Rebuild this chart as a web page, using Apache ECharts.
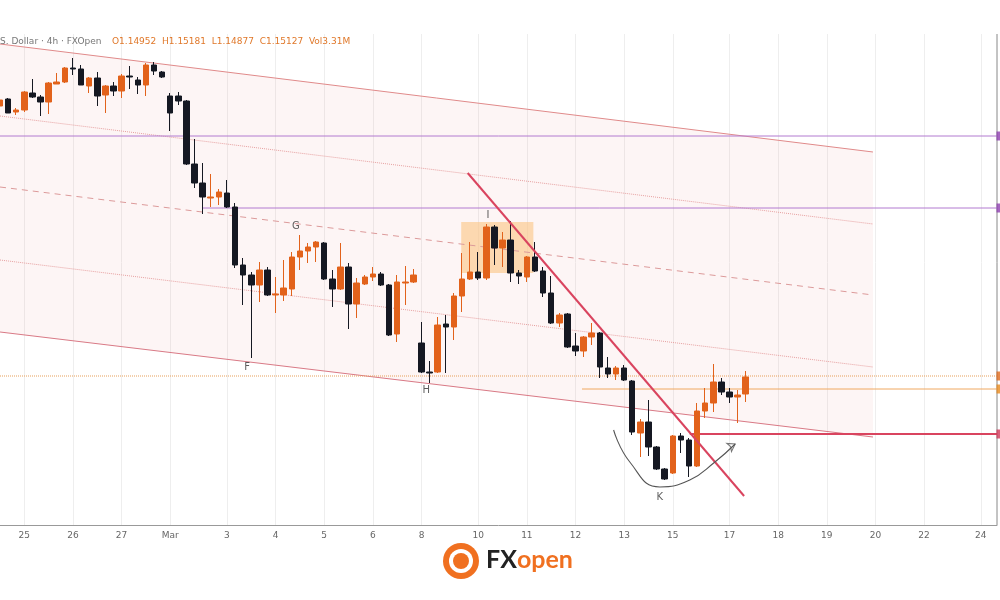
<!DOCTYPE html>
<html>
<head>
<meta charset="utf-8">
<script src="https://cdn.jsdelivr.net/npm/echarts@6/dist/echarts.min.js"></script>
<style>
  html, body { margin: 0; padding: 0; background: #fff; }
  #chart { width: 1000px; height: 600px; }
</style>
</head>
<body>
<div id="chart"></div>
<script>
// 4h candles, [open, close, low, high]
const candles = [
  [1.1784,1.1790,1.1783,1.1791],[1.1791,1.1777,1.1777,1.1792],[1.1778,1.1780,1.1775,1.1782],[1.1780,1.1798,1.1778,1.1799],
  [1.1797,1.1793,1.1792,1.1811],[1.1793,1.1788,1.1774,1.1795],[1.1788,1.1807,1.1776,1.1808],[1.1806,1.1808,1.1806,1.1817],
  [1.1808,1.1822,1.1807,1.1823],[1.1822,1.1821,1.1815,1.1832],[1.1821,1.1805,1.1805,1.1825],[1.1804,1.1812,1.1797,1.1813],
  [1.1812,1.1794,1.1784,1.1818],[1.1795,1.1804,1.1777,1.1805],[1.1804,1.1799,1.1794,1.1808],[1.1799,1.1814,1.1792,1.1816],
  [1.1814,1.1813,1.1801,1.1824],[1.1810,1.1805,1.1796,1.1813],[1.1805,1.1825,1.1794,1.1827],[1.1825,1.1819,1.1815,1.1828],
  [1.1818,1.1813,1.1812,1.1819],[1.1794,1.1777,1.1759,1.1797],[1.1794,1.1789,1.1785,1.1798],[1.1789,1.1726,1.1725,1.1790],
  [1.1726,1.1707,1.1702,1.1751],[1.1707,1.1693,1.1676,1.1727],[1.1692,1.1693,1.1683,1.1716],[1.1693,1.1698,1.1685,1.1701],
  [1.1697,1.1683,1.1682,1.1710],[1.1683,1.1625,1.1622,1.1687],[1.1625,1.1615,1.1585,1.1632],[1.1615,1.1605,1.1532,1.1618],
  [1.1605,1.1620,1.1588,1.1628],[1.1620,1.1595,1.1594,1.1623],[1.1595,1.1596,1.1577,1.1613],[1.1595,1.1602,1.1589,1.1630],
  [1.1601,1.1633,1.1594,1.1638],[1.1633,1.1639,1.1620,1.1655],[1.1639,1.1643,1.1627,1.1647],[1.1643,1.1648,1.1628,1.1649],
  [1.1647,1.1611,1.1610,1.1648],[1.1611,1.1601,1.1583,1.1620],[1.1601,1.1623,1.1600,1.1647],[1.1623,1.1586,1.1561,1.1627],
  [1.1586,1.1607,1.1572,1.1612],[1.1606,1.1613,1.1605,1.1615],[1.1613,1.1616,1.1609,1.1623],[1.1616,1.1605,1.1604,1.1618],
  [1.1605,1.1555,1.1554,1.1606],[1.1556,1.1608,1.1548,1.1615],[1.1607,1.1608,1.1585,1.1624],[1.1608,1.1615,1.1607,1.1621],
  [1.1547,1.1518,1.1517,1.1568],[1.1518,1.1517,1.1507,1.1529],[1.1518,1.1565,1.1517,1.1573],[1.1566,1.1563,1.1517,1.1575],
  [1.1563,1.1594,1.1550,1.1597],[1.1594,1.1611,1.1578,1.1637],[1.1611,1.1618,1.1610,1.1648],[1.1618,1.1612,1.1610,1.1638],
  [1.1612,1.1663,1.1610,1.1666],[1.1663,1.1642,1.1625,1.1665],[1.1642,1.1650,1.1623,1.1658],[1.1650,1.1617,1.1608,1.1669],
  [1.1617,1.1614,1.1606,1.1620],[1.1613,1.1633,1.1608,1.1634],[1.1633,1.1619,1.1618,1.1648],[1.1619,1.1597,1.1593,1.1623],
  [1.1597,1.1567,1.1566,1.1614],[1.1567,1.1575,1.1563,1.1577],[1.1576,1.1543,1.1542,1.1577],[1.1544,1.1539,1.1534,1.1557],
  [1.1539,1.1553,1.1533,1.1554],[1.1553,1.1557,1.1545,1.1567],[1.1557,1.1523,1.1512,1.1558],[1.1522,1.1516,1.1512,1.1533],
  [1.1516,1.1522,1.1510,1.1524],[1.1522,1.1510,1.1509,1.1525],[1.1509,1.1458,1.1455,1.1510],[1.1457,1.1468,1.1433,1.1471],
  [1.1468,1.1443,1.1434,1.1490],[1.1443,1.1421,1.1420,1.1444],[1.1421,1.1411,1.1410,1.1422],[1.1417,1.1454,1.1416,1.1455],
  [1.1454,1.1450,1.1437,1.1457],[1.1450,1.1424,1.1413,1.1452],[1.1424,1.1479,1.1423,1.1487],[1.1479,1.1487,1.1472,1.1502],
  [1.1487,1.1508,1.1478,1.1526],[1.1508,1.1498,1.1495,1.1512],[1.1498,1.1493,1.1487,1.1502],[1.1493,1.1495,1.1467,1.1500],
  [1.1496,1.1513,1.1488,1.1519]
];
const slotCount = 124;
const dayLabels = ['25','26','27','Mar','3','4','5','6','8','10','11','12','13','15','17','18','19','20','22','24'];
const daySlots = [2.5,8.9,14.8,20.7,28.1,34,39.9,45.9,51.9,58.9,64.9,70.7,76.9,83,89.9,95.8,102,107.9,114,120.7];

// channel lines [slot, price] start/end
const chUpper = [[0,1.1846],[107.7,1.1738]];
const chQ1 = [[0,1.1774],[107.7,1.1666]];
const chMid = [[0,1.1703],[107.7,1.1595]];
const chQ3 = [[0,1.1630],[107.7,1.1523]];
const chLower = [[0,1.1558],[107.7,1.1453]];
const trendLine = [[57.7,1.1717],[91.8,1.1394]];
const zoneBox = [56.9,65.8,1.1668,1.1617];
const arcPts = [[75.7,1.1460],[77.7,1.1428],[81.4,1.1403],[85.1,1.1410],[88.2,1.1428],[90.7,1.1446]];
// horizontal levels: price, start slot, colour, type, width
const levels = [
  [1.1754, 0, '#b27ad0', 'solid', 1],
  [1.1682, 25, '#b27ad0', 'solid', 1],
  [1.1514, 0, '#e8a05a', 'dotted', 1],
  [1.1501, 71.8, '#f0a860', 'solid', 1],
  [1.1456, 85.1, '#d9445f', 'solid', 1.8]
];
const markerColors = ['#8e3fb0','#8e3fb0','#e06a1c','#e88a1c','#d03a5a'];
const pointLabels = [['F',30.5,1.1523],['G',36.5,1.1664],['H',52.6,1.1500],['I',60.2,1.1675],['K',81.4,1.1393]];

const chart = echarts.init(document.getElementById('chart'));
const upColor = '#e2621b', downColor = '#151822';

const categories = [];
for (let i = 0; i < slotCount; i++) categories.push(String(i));
const labelAt = {};
daySlots.forEach((s, i) => { labelAt[Math.round(s)] = dayLabels[i]; });

const line = (pts, color, type, width, z) => ({
  type: 'line', xAxisIndex: 1, data: pts, symbol: 'none', silent: true, z: z || 3,
  lineStyle: { color: color, type: type, width: width }
});

const series = [
  {
    type: 'custom', xAxisIndex: 1, silent: true, z: 1, data: [0],
    renderItem: (params, api) => {
      const pts = [chUpper[0], chUpper[1], chLower[1], chLower[0]].map(p => api.coord(p));
      return { type: 'polygon', shape: { points: pts }, style: { fill: 'rgba(238,140,140,0.09)' } };
    }
  },
  {
    type: 'custom', xAxisIndex: 1, silent: true, z: 1, data: [0],
    renderItem: (params, api) => {
      const a = api.coord([zoneBox[0], zoneBox[2]]), b = api.coord([zoneBox[1], zoneBox[3]]);
      return { type: 'rect', shape: { x: a[0], y: a[1], width: b[0] - a[0], height: b[1] - a[1] },
        style: { fill: 'rgba(252,196,130,0.6)' } };
    }
  },
  line(chUpper, '#e08a8a', 'solid', 1),
  line(chQ1, '#e6a0a0', 'dotted', 1),
  line(chMid, '#dc9a9a', [6, 5], 1),
  line(chQ3, '#e6a0a0', 'dotted', 1),
  line(chLower, '#d97a86', 'solid', 1.2),
  ...levels.map(l => line([[l[1], l[0]], [123, l[0]]], l[2], l[3], l[4])),
  {
    type: 'candlestick', xAxisIndex: 0, data: candles, barWidth: 6, z: 5,
    itemStyle: { color: upColor, color0: downColor, borderColor: upColor, borderColor0: downColor, borderWidth: 1 }
  },
  line(trendLine, '#d9445f', 'solid', 2, 6),
  Object.assign(line(arcPts, '#555', 'solid', 1.1, 6), { smooth: true }),
  {
    type: 'scatter', xAxisIndex: 1, z: 6, silent: true, symbol: 'arrow', symbolSize: [7, 7], symbolRotate: -60,
    data: [arcPts[arcPts.length - 1]], itemStyle: { color: 'none', borderColor: '#555', borderWidth: 1 }
  },
  {
    type: 'scatter', xAxisIndex: 1, z: 7, silent: true, symbolSize: 0,
    data: pointLabels.map(p => ({ value: [p[1], p[2]], name: p[0] })),
    label: { show: true, formatter: '{b}', color: '#333', fontSize: 10, fontFamily: 'DejaVu Sans' }
  },
  {
    type: 'scatter', xAxisIndex: 1, z: 8, silent: true, symbol: 'rect', symbolSize: [5, 9], symbolOffset: [2, 0],
    data: levels.map((l, i) => ({ value: [123, l[0]], itemStyle: { color: markerColors[i] } }))
  }
];

chart.setOption({
  animation: false,
  grid: { left: 0, right: 3, top: 0, bottom: 75 },
  xAxis: [
    {
      type: 'category', data: categories, boundaryGap: false,
      axisLine: { lineStyle: { color: '#999' } }, axisTick: { show: false },
      axisLabel: {
        interval: (i) => labelAt[i] !== undefined, formatter: (v, i) => labelAt[i] || '',
        color: '#666', fontSize: 9, fontFamily: 'DejaVu Sans', margin: 6
      },
      splitLine: { show: true, interval: (i) => labelAt[i] !== undefined, lineStyle: { color: '#eeeeee' } }
    },
    { type: 'value', min: 0, max: 123, show: false }
  ],
  yAxis: {
    type: 'value', min: 1.1365, max: 1.1890, show: false, splitLine: { show: false }, scale: true
  },
  graphic: [
    { type: 'line', shape: { x1: 997, y1: 0, x2: 997, y2: 525 }, style: { stroke: '#888', lineWidth: 1 } },
    { type: 'rect', shape: { x: 0, y: 0, width: 1000, height: 34 }, style: { fill: '#fff' }, z: 90 },
    { type: 'rect', shape: { x: 0, y: 544, width: 1000, height: 56 }, style: { fill: '#fff' }, z: 90 },
    { type: 'text', x: 0, y: 37, z: 100, style: { text: 'S. Dollar · 4h · FXOpen', fill: '#777', fontSize: 9, fontFamily: 'DejaVu Sans' } },
    { type: 'text', x: 112, y: 37, z: 100, style: { text: 'O1.14952  H1.15181  L1.14877  C1.15127  Vol3.31M', fill: '#e0782a', fontSize: 9, fontFamily: 'DejaVu Sans' } },
    { type: 'circle', shape: { cx: 461, cy: 561, r: 18 }, style: { fill: '#f07020' }, z: 100 },
    { type: 'circle', shape: { cx: 461, cy: 561, r: 12 }, style: { fill: '#fff' }, z: 100 },
    { type: 'circle', shape: { cx: 461, cy: 561, r: 8 }, style: { fill: '#f07020' }, z: 100 },
    { type: 'text', x: 486, y: 547, z: 100, style: { text: '{a|FX}{b|open}', rich: {
      a: { fill: '#222', fontSize: 25, fontWeight: 'bold', fontFamily: 'Lato' },
      b: { fill: '#f07020', fontSize: 25, fontWeight: 'bold', fontFamily: 'Lato' } } } }
  ],
  series: series
});
</script>
</body>
</html>
